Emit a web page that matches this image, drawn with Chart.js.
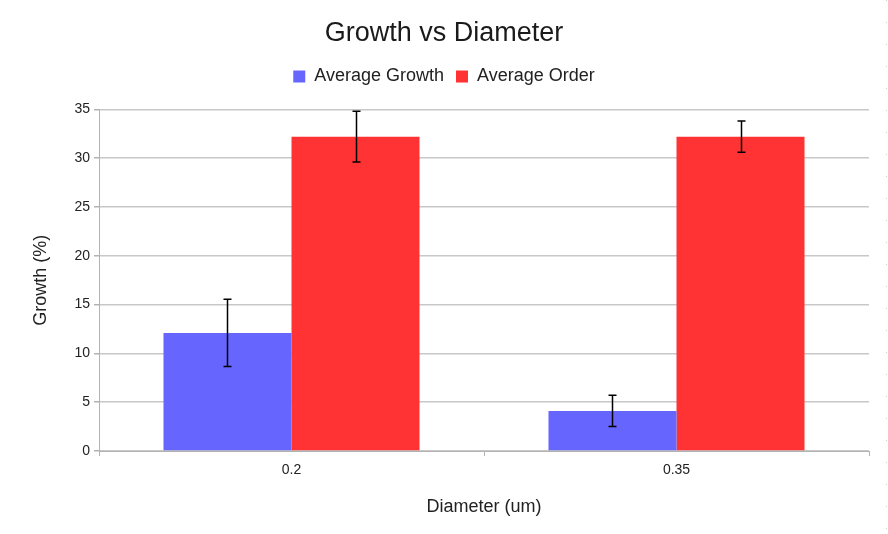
<!DOCTYPE html>
<html>
<head>
<meta charset="utf-8">
<script src="https://cdn.jsdelivr.net/npm/chart.js@4/dist/chart.umd.min.js"></script>
<style>
  html, body { margin: 0; padding: 0; background: #fff; }
  #wrap { position: relative; width: 888px; height: 534px; }
  #dots {
    position: absolute; left: 886px; top: 0; width: 1px; height: 534px;
    background: repeating-linear-gradient(to bottom, #d0d0d0 0 1px, transparent 1px 22px);
  }
</style>
</head>
<body>
<div id="wrap">
  <canvas id="chart" width="888" height="534"></canvas>
  <div id="dots"></div>
</div>
<script>
// diameters on the x axis
const diameters = ["0.2", "0.35"];

// growth / order values and their error ranges
const avgGrowth = [12.1, 4.1];
const avgGrowthErr = [3.45, 1.6];
const avgOrder = [32.2, 32.2];
const avgOrderErr = [2.6, 1.6];

const yTicks = [0, 5, 10, 15, 20, 25, 30, 35];

const FONT = "'Liberation Sans', Arial, sans-serif";

// draws the black error bars on top of each bar
const errorBars = {
    id: "errorBars",
    afterDatasetsDraw(chart) {
        const ctx = chart.ctx;
        const y = chart.scales.y;
        const errs = [avgGrowthErr, avgOrderErr];
        ctx.save();
        ctx.strokeStyle = "#000";
        ctx.lineWidth = 1.5;
        chart.data.datasets.forEach((ds, di) => {
            const meta = chart.getDatasetMeta(di);
            meta.data.forEach((bar, i) => {
                const v = ds.data[i];
                const e = errs[di][i];
                const top = y.getPixelForValue(v + e);
                const bot = y.getPixelForValue(v - e);
                const x = Math.round(bar.x) + 0.5;
                ctx.beginPath();
                ctx.moveTo(x, top); ctx.lineTo(x, bot);
                ctx.moveTo(x - 4, top); ctx.lineTo(x + 4, top);
                ctx.moveTo(x - 4, bot); ctx.lineTo(x + 4, bot);
                ctx.stroke();
            });
        });
        ctx.restore();
    }
};

// a bit more room under the legend
const legendGap = {
    id: "legendGap",
    beforeInit(chart) {
        const fit = chart.legend.fit;
        chart.legend.fit = function () {
            fit.call(this);
            this.height += 14;
        };
    }
};

new Chart(document.getElementById("chart"), {
    type: "bar",
    data: {
        labels: diameters,
        datasets: [
            {
                label: "Average Growth",
                data: avgGrowth,
                backgroundColor: "#6666ff",
                borderWidth: 0
            },
            {
                label: "Average Order",
                data: avgOrder,
                backgroundColor: "#ff3333",
                borderWidth: 0
            }
        ]
    },
    options: {
        responsive: false,
        animation: false,
        layout: { padding: { top: 0, right: 19, bottom: 0, left: 19 } },
        datasets: {
            bar: { categoryPercentage: 0.665, barPercentage: 1.0 }
        },
        scales: {
            x: {
                offset: true,
                grid: {
                    offset: true,
                    drawOnChartArea: true,
                    color: ctx => ctx.index === 2 ? "#b3b3b3" : "rgba(0,0,0,0)",
                    tickColor: "#b3b3b3",
                    tickLength: 5
                },
                border: { color: "#b3b3b3" },
                ticks: {
                    color: "#222",
                    padding: 6,
                    font: { family: FONT, size: 14 }
                },
                title: {
                    display: true,
                    text: "Diameter (um)",
                    color: "#222",
                    font: { family: FONT, size: 18 },
                    padding: { top: 0, bottom: 16 }
                },
                afterFit: s => { s.height = 83; }
            },
            y: {
                min: 0,
                max: 35,
                afterBuildTicks: s => { s.ticks = yTicks.map(v => ({ value: v })); },
                grid: {
                    color: "#c8c8c8",
                    tickColor: "#b3b3b3",
                    tickLength: 5,
                    lineWidth: 1.5
                },
                border: { color: "#b3b3b3" },
                ticks: {
                    color: "#222",
                    padding: 4,
                    font: { family: FONT, size: 14 }
                },
                title: {
                    display: true,
                    text: "Growth (%)",
                    color: "#222",
                    font: { family: FONT, size: 18 },
                    padding: { top: 11, bottom: 0 }
                },
                afterFit: s => { s.width = 80; }
            }
        },
        plugins: {
            title: {
                display: true,
                text: "Growth vs Diameter",
                color: "#1a1a1a",
                font: { family: FONT, size: 27, weight: "normal" },
                padding: { top: 17, bottom: 6 }
            },
            legend: {
                labels: {
                    color: "#222",
                    boxWidth: 12,
                    boxHeight: 12,
                    padding: 12,
                    font: { family: FONT, size: 18 }
                }
            },
            tooltip: { enabled: false }
        }
    },
    plugins: [errorBars, legendGap]
});
</script>
</body>
</html>
